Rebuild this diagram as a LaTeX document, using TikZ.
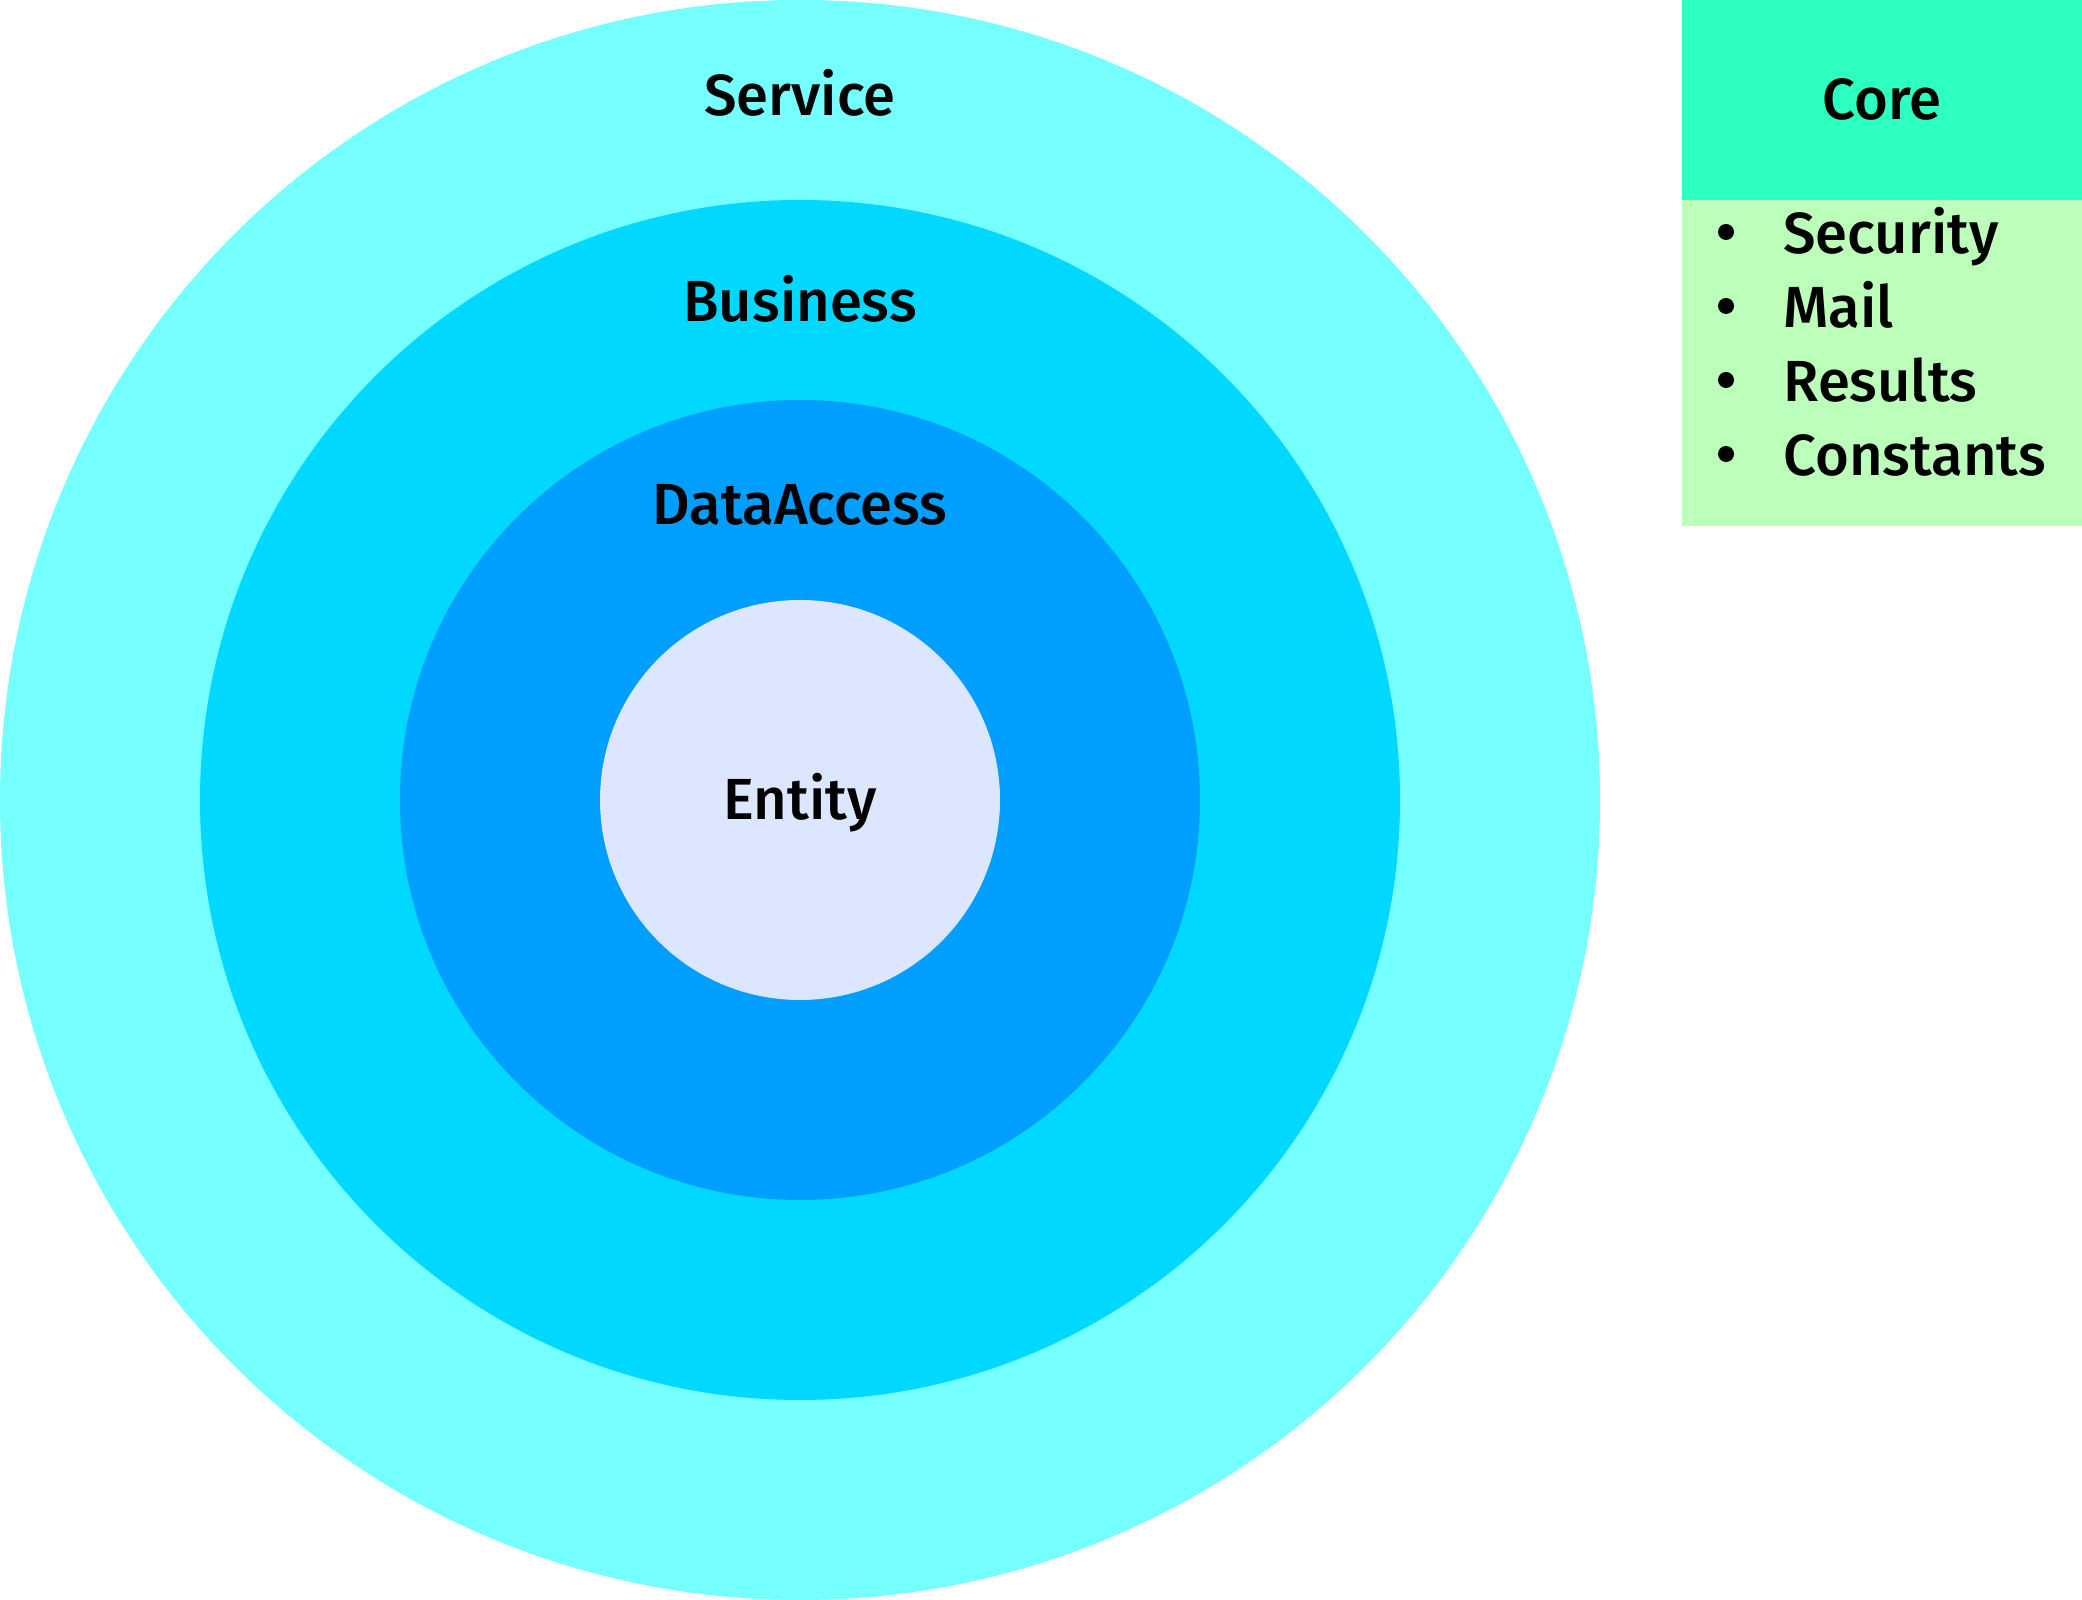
\documentclass[tikz,border=0pt]{standalone}
\usepackage{fontspec}
\setmainfont{Fira Sans}[UprightFont={* Medium}]
\definecolor{serviceblue}{RGB}{117,255,255}
\definecolor{businessblue}{RGB}{0,216,255}
\definecolor{dataaccessblue}{RGB}{0,159,255}
\definecolor{entityblue}{RGB}{221,230,255}
\definecolor{coregreen}{RGB}{44,255,192}
\definecolor{listgreen}{RGB}{187,255,187}
\tikzset{
  layer/.style={anchor=base,font=\fontsize{16.5}{20}\selectfont},
  item/.style={anchor=base west,font=\fontsize{16.5}{20}\selectfont}
}
\pgfmathsetmacro{\rad}{2}
\begin{document}
\begin{tikzpicture}
      \useasboundingbox (0,0) rectangle (20.82,16);
      \fill[serviceblue] (8,8) circle (4*\rad);
      \fill[businessblue] (8,8) circle (3*\rad);
      \fill[dataaccessblue] (8,8) circle (2*\rad);
      \fill[entityblue] (8,8) circle (\rad);
      \node[layer] (service) at (8,14.84) {Service};
      \node[layer] (business) at (8,12.78) {Business};
      \node[layer] (dataaccess) at (8,10.75) {DataAccess};
      \node[layer] (entity) at (8,7.8) {Entity};
      \fill[coregreen] (16.82,14) rectangle (20.82,16);
      \fill[listgreen] (16.82,10.74) rectangle (20.82,14);
      \node[layer] (core) at (18.82,14.8) {Core};
      \foreach \name [count=\i] in {Security,Mail,Results,Constants}
      {
        \fill (17.26,{13.68-0.74*(\i-1)}) circle (0.08);
        \node[item] (item\i) at (17.71,{13.46-0.74*(\i-1)}) {\name};
      }
\end{tikzpicture}
\end{document}
